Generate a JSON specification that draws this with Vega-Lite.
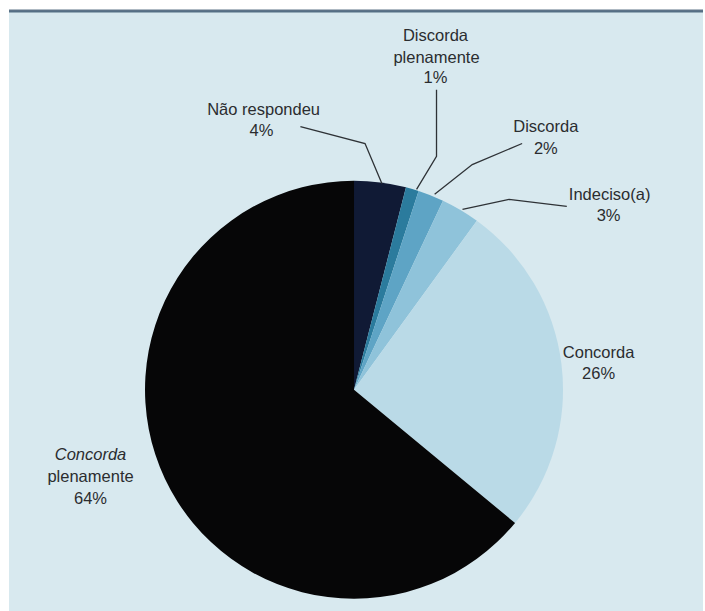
{
  "$schema": "https://vega.github.io/schema/vega-lite/v6.json",
  "width": 705,
  "height": 611,
  "autosize": {"type": "fit", "contains": "padding"},
  "padding": {"top": 9, "left": 7, "right": 0, "bottom": 0},
  "background": "#ffffff",
  "config": {"view": {"fill": "#d8e9ef", "stroke": null}},
  "datasets": {
    "slices": [
      {"cat": "Não respondeu", "pct": 4, "ord": 1},
      {"cat": "Discorda plenamente", "pct": 1, "ord": 2},
      {"cat": "Discorda", "pct": 2, "ord": 3},
      {"cat": "Indeciso(a)", "pct": 3, "ord": 4},
      {"cat": "Concorda", "pct": 26, "ord": 5},
      {"cat": "Concorda plenamente", "pct": 64, "ord": 6}
    ],
    "labels": [
      {"t": "Não respondeu", "u": -0.435, "v": 1.344, "it": false},
      {"t": "4%", "u": -0.445, "v": 1.244, "it": false},
      {"t": "Discorda", "u": 0.392, "v": 1.699, "it": false},
      {"t": "plenamente", "u": 0.397, "v": 1.593, "it": false},
      {"t": "1%", "u": 0.392, "v": 1.498, "it": false},
      {"t": "Discorda", "u": 0.923, "v": 1.263, "it": false},
      {"t": "2%", "u": 0.923, "v": 1.158, "it": false},
      {"t": "Indeciso(a)", "u": 1.23, "v": 0.933, "it": false},
      {"t": "3%", "u": 1.225, "v": 0.833, "it": false},
      {"t": "Concorda", "u": 1.177, "v": 0.177, "it": false},
      {"t": "26%", "u": 1.177, "v": 0.077, "it": false},
      {"t": "Concorda", "u": -1.268, "v": -0.311, "it": true},
      {"t": "plenamente", "u": -1.268, "v": -0.421, "it": false},
      {"t": "64%", "u": -1.268, "v": -0.526, "it": false}
    ],
    "leaders": [
      {"cat": "Não respondeu", "s": 1, "u": -0.258, "v": 1.263},
      {"cat": "Não respondeu", "s": 2, "u": 0.053, "v": 1.182},
      {"cat": "Não respondeu", "s": 3, "u": 0.134, "v": 0.99},
      {"cat": "Discorda plenamente", "s": 1, "u": 0.397, "v": 1.44},
      {"cat": "Discorda plenamente", "s": 2, "u": 0.397, "v": 1.12},
      {"cat": "Discorda plenamente", "s": 3, "u": 0.301, "v": 0.962},
      {"cat": "Discorda", "s": 1, "u": 0.809, "v": 1.182},
      {"cat": "Discorda", "s": 2, "u": 0.569, "v": 1.081},
      {"cat": "Discorda", "s": 3, "u": 0.388, "v": 0.938},
      {"cat": "Indeciso(a)", "s": 1, "u": 1.024, "v": 0.88},
      {"cat": "Indeciso(a)", "s": 2, "u": 0.746, "v": 0.914},
      {"cat": "Indeciso(a)", "s": 3, "u": 0.522, "v": 0.866}
    ],
    "topband": [{"v": 1.8182}]
  },
  "layer": [
    {
      "data": {"name": "slices"},
      "mark": {"type": "arc", "outerRadius": 209, "stroke": null},
      "encoding": {
        "x": {"datum": 0, "type": "quantitative", "scale": {"domain": [-1.6603, 1.6794], "nice": false, "zero": false}, "axis": null},
        "y": {"datum": 0, "type": "quantitative", "scale": {"domain": [-1.0622, 1.8182], "nice": false, "zero": false}, "axis": null},
        "theta": {"field": "pct", "type": "quantitative", "stack": true},
        "order": {"field": "ord", "type": "quantitative"},
        "color": {
          "field": "cat", "type": "nominal", "legend": null,
          "scale": {
            "domain": ["Não respondeu", "Discorda plenamente", "Discorda", "Indeciso(a)", "Concorda", "Concorda plenamente"],
            "range": ["#101a35", "#2b7b9d", "#5ea4c5", "#8fc3da", "#badae7", "#060607"]
          }
        }
      }
    },
    {
      "data": {"name": "leaders"},
      "mark": {"type": "line", "color": "#2e3236", "strokeWidth": 1.3},
      "encoding": {
        "x": {"field": "u", "type": "quantitative", "scale": {"domain": [-1.6603, 1.6794], "nice": false, "zero": false}, "axis": null},
        "y": {"field": "v", "type": "quantitative", "scale": {"domain": [-1.0622, 1.8182], "nice": false, "zero": false}, "axis": null},
        "detail": {"field": "cat"},
        "order": {"field": "s", "type": "quantitative"}
      }
    },
    {
      "data": {"name": "labels"},
      "transform": [{"filter": "!datum.it"}],
      "mark": {"type": "text", "font": "Liberation Sans", "fontSize": 16.5, "color": "#2b2d2f", "align": "center", "baseline": "middle"},
      "encoding": {
        "x": {"field": "u", "type": "quantitative", "scale": {"domain": [-1.6603, 1.6794], "nice": false, "zero": false}, "axis": null},
        "y": {"field": "v", "type": "quantitative", "scale": {"domain": [-1.0622, 1.8182], "nice": false, "zero": false}, "axis": null},
        "text": {"field": "t"}
      }
    },
    {
      "data": {"name": "labels"},
      "transform": [{"filter": "datum.it"}],
      "mark": {"type": "text", "font": "Liberation Sans", "fontSize": 16.5, "fontStyle": "italic", "color": "#2b2d2f", "align": "center", "baseline": "middle"},
      "encoding": {
        "x": {"field": "u", "type": "quantitative", "scale": {"domain": [-1.6603, 1.6794], "nice": false, "zero": false}, "axis": null},
        "y": {"field": "v", "type": "quantitative", "scale": {"domain": [-1.0622, 1.8182], "nice": false, "zero": false}, "axis": null},
        "text": {"field": "t"}
      }
    },
    {
      "data": {"name": "topband"},
      "mark": {"type": "rule", "color": "#34506a", "strokeWidth": 3, "opacity": 0.8},
      "encoding": {
        "y": {"field": "v", "type": "quantitative", "scale": {"domain": [-1.0622, 1.8182], "nice": false, "zero": false}, "axis": null}
      }
    }
  ]
}
